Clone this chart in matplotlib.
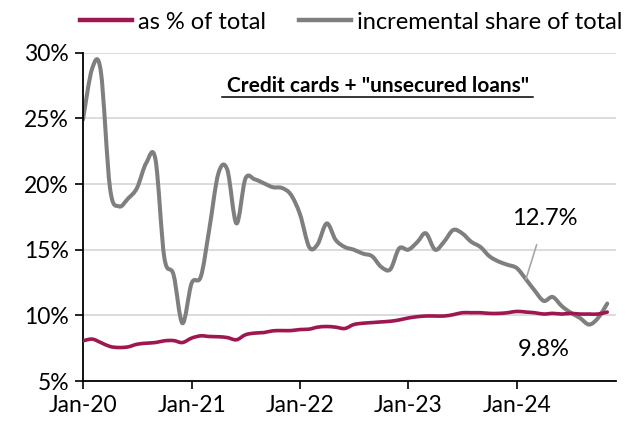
import matplotlib.pyplot as plt
import matplotlib.dates as mdates
import matplotlib.ticker as mticker
from matplotlib.path import Path
from matplotlib.patches import PathPatch
from matplotlib.lines import Line2D
import numpy as np
import pandas as pd

plt.rcParams['font.family'] = ['Lato', 'DejaVu Sans']

dates = pd.date_range('2020-01-01', '2024-11-01', freq='MS')

# as % of total
share = [8.06, 8.19, 7.93, 7.63, 7.55, 7.6, 7.8, 7.88, 7.93, 8.06, 8.08, 7.93,
         8.27, 8.44, 8.39, 8.37, 8.31, 8.14, 8.52, 8.65, 8.69, 8.82, 8.84, 8.84,
         8.92, 8.95, 9.1, 9.15, 9.1, 9.0, 9.3, 9.4, 9.45, 9.5, 9.55, 9.65,
         9.8, 9.9, 9.95, 9.95, 9.95, 10.05, 10.2, 10.2, 10.2, 10.15, 10.15, 10.2,
         10.3, 10.25, 10.2, 10.1, 10.15, 10.1, 10.15, 10.1, 10.1, 10.1, 10.25]

# incremental share of total
incr = [24.9, 28.8, 28.6, 19.7, 18.3, 18.9, 19.7, 21.6, 21.9, 14.4, 13.1, 9.4,
        12.45, 12.95, 16.5, 20.8, 21.1, 17.0, 20.4, 20.36, 20.06, 19.76, 19.7, 19.2,
        17.7, 15.2, 15.4, 17.0, 15.75, 15.2, 15.0, 14.7, 14.5, 13.7, 13.5, 15.1,
        15.0, 15.6, 16.25, 15.0, 15.6, 16.5, 16.25, 15.6, 15.2, 14.5, 14.1, 13.85,
        13.6, 12.75, 11.9, 11.1, 11.4, 10.7, 10.2, 9.8, 9.3, 9.8, 10.9]

red = '#9E1750'
grey = '#7F7F7F'


def smooth_line(ax, x, y, **kw):
    # excel-style smoothed line (catmull-rom as bezier)
    p = np.column_stack([mdates.date2num(x), y])
    verts = [p[0]]
    codes = [Path.MOVETO]
    n = len(p)
    for i in range(n - 1):
        p0 = p[max(i - 1, 0)]
        p1, p2 = p[i], p[i + 1]
        p3 = p[min(i + 2, n - 1)]
        verts += [p1 + (p2 - p0) / 6, p2 - (p3 - p1) / 6, p2]
        codes += [Path.CURVE4] * 3
    ax.add_patch(PathPatch(Path(verts, codes), fill=False, capstyle='round',
                           joinstyle='round', **kw))


fig = plt.figure(figsize=(6.31, 4.25), dpi=100)
ax = fig.add_axes([0.1315, 0.1035, 0.845, 0.7725])

smooth_line(ax, dates, incr, edgecolor=grey, lw=2.9, zorder=2)
smooth_line(ax, dates, share, edgecolor=red, lw=2.6, zorder=3)

ax.set_ylim(5, 30)
ax.set_xlim(pd.Timestamp('2020-01-01'), pd.Timestamp('2024-12-01'))
ax.yaxis.set_major_locator(mticker.MultipleLocator(5))
ax.yaxis.set_major_formatter(mticker.FuncFormatter(lambda v, p: '%d%%' % v))
ax.xaxis.set_major_locator(mdates.YearLocator())
ax.xaxis.set_major_formatter(mdates.DateFormatter('%b-%y'))
ax.tick_params(labelsize=16.5, length=6, width=1.2, color='black', pad=4)
ax.grid(axis='y', color='#d9d9d9', lw=1.3)
ax.set_axisbelow(True)
for s in ['top', 'right']:
    ax.spines[s].set_visible(False)
for s in ['left', 'bottom']:
    ax.spines[s].set_linewidth(1.3)

ax.text(0.553, 0.90, 'Credit cards + "unsecured loans"', transform=ax.transAxes,
        ha='center', va='center', fontsize=15, fontweight='bold')
# underline
ax.plot([0.261, 0.844], [0.865, 0.865], transform=ax.transAxes, color='black', lw=1.1)

ax.annotate('12.7%', xy=(dates[49], 12.75), xytext=(pd.Timestamp('2024-04-05'), 17.4),
            fontsize=17, ha='center', va='center',
            arrowprops=dict(arrowstyle='-', color='#a6a6a6', lw=1.2, shrinkA=10, shrinkB=0))
ax.text(pd.Timestamp('2024-04-01'), 7.4, '9.8%', fontsize=17, ha='center', va='center')

handles = [Line2D([], [], color=red, lw=3.2), Line2D([], [], color=grey, lw=3.2)]
fig.legend(handles, ['as % of total', 'incremental share of total'],
           loc='center', bbox_to_anchor=(0.556, 0.948), ncol=2, frameon=False,
           fontsize=17, handlelength=2.2, handletextpad=0.25, columnspacing=1.4)

fig.savefig('out.png', dpi=100)
